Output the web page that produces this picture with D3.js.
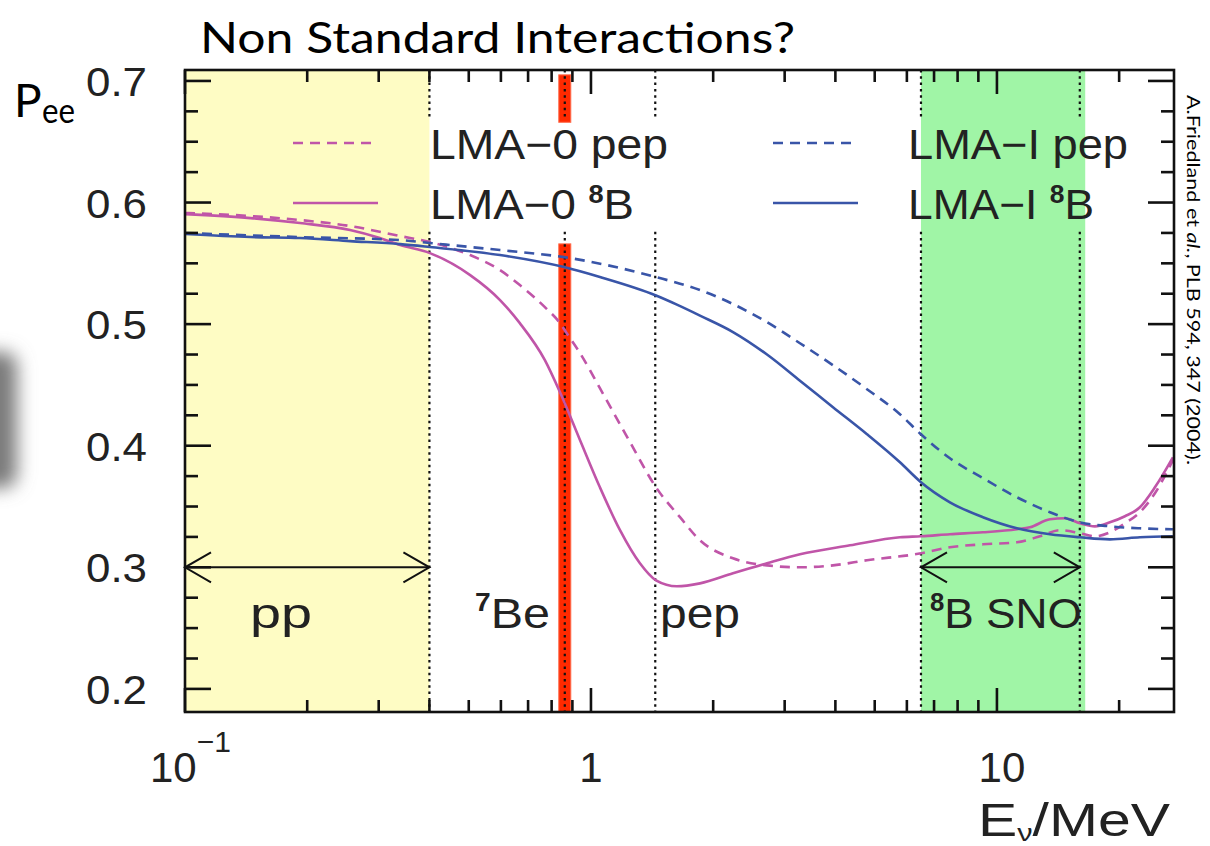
<!DOCTYPE html>
<html><head><meta charset="utf-8">
<script src="https://cdn.jsdelivr.net/npm/d3@7"></script>
<style>body{margin:0;background:#fff;} svg{display:block;}</style>
</head><body>
<svg id="chart" width="1210" height="846"></svg>
<script>
// ---------------- data ----------------
const xDomain = [0.1, 27.3];
const yDomain = [0.181, 0.709];

// [E (MeV), Pee]
const lma0_pep = [[0.100,0.5914],[0.145,0.5889],[0.192,0.5856],[0.255,0.5807],[0.339,0.5724],[0.401,0.5675],[0.504,0.5568],[0.597,0.5444],[0.668,0.5321],[0.770,0.5140],[0.839,0.5008],[0.868,0.4934],[0.940,0.4761],[1.052,0.4473],[1.248,0.4029],[1.446,0.3658],[1.657,0.3412],[1.856,0.3222],[2.238,0.3074],[2.714,0.3016],[3.272,0.3000],[3.946,0.3016],[4.785,0.3058],[6.499,0.3115],[7.659,0.3165],[9.237,0.3189],[11.20,0.3206],[12.76,0.3255],[14.30,0.3305],[16.01,0.3280],[17.43,0.3255],[18.98,0.3288],[20.67,0.3362],[22.50,0.3453],[24.50,0.3609],[27.13,0.3881]];
const lma0_8B = [[0.100,0.5905],[0.145,0.5872],[0.192,0.5831],[0.255,0.5774],[0.302,0.5708],[0.339,0.5650],[0.401,0.5584],[0.504,0.5403],[0.597,0.5198],[0.668,0.5008],[0.770,0.4704],[0.839,0.4440],[0.940,0.4045],[1.052,0.3658],[1.179,0.3305],[1.320,0.3033],[1.446,0.2893],[1.628,0.2844],[1.856,0.2868],[2.238,0.2951],[2.714,0.3033],[3.272,0.3107],[4.345,0.3181],[5.769,0.3247],[6.499,0.3255],[7.659,0.3272],[9.237,0.3288],[11.20,0.3313],[12.06,0.3329],[13.51,0.3395],[14.71,0.3403],[16.01,0.3362],[17.43,0.3337],[18.98,0.3370],[20.67,0.3420],[22.50,0.3494],[24.50,0.3658],[27.13,0.3905]];
const lmaI_pep = [[0.100,0.5749],[0.192,0.5716],[0.339,0.5691],[0.401,0.5667],[0.597,0.5609],[0.858,0.5551],[1.446,0.5387],[1.856,0.5280],[2.714,0.5016],[3.272,0.4843],[3.946,0.4662],[4.785,0.4465],[5.769,0.4259],[6.499,0.4094],[7.659,0.3897],[9.237,0.3733],[11.20,0.3576],[13.51,0.3453],[16.01,0.3370],[18.98,0.3337],[22.50,0.3321],[27.13,0.3313]];
const lmaI_8B = [[0.100,0.5741],[0.145,0.5716],[0.192,0.5708],[0.255,0.5683],[0.339,0.5658],[0.401,0.5634],[0.597,0.5568],[0.858,0.5469],[1.052,0.5387],[1.446,0.5235],[1.628,0.5160],[1.856,0.5070],[2.238,0.4935],[2.714,0.4750],[3.272,0.4535],[3.946,0.4317],[4.785,0.4095],[5.769,0.3864],[6.499,0.3700],[7.659,0.3535],[9.237,0.3412],[11.20,0.3321],[13.51,0.3272],[16.01,0.3247],[18.98,0.3230],[22.50,0.3247],[27.13,0.3255]];

const seriesNames = ["LMA\u22120 pep", "LMA\u22120 ", "LMA\u2212I pep", "LMA\u2212I "];
const yellowBand = [0.1, 0.4];
const greenBand = [6.5, 16.5];
const dottedE = [0.4, 0.862, 1.44, 6.5, 16.0];
const dottedGapP = [0.576, 0.670];
const redBarE = 0.862;
const redBarSegmentsP = [[0.666, 0.705], [0.181, 0.566]];
const arrowRanges = [[0.1, 0.4], [6.5, 16.0]];
const arrowP = 0.3;
const xMajorTicks = [0.1, 1, 10];
const xMinorTicks = [0.2,0.3,0.4,0.5,0.6,0.7,0.8,0.9,2,3,4,5,6,7,8,9,20];
const yMajorTicks = [0.2,0.3,0.4,0.5,0.6,0.7];
const yMinorTicks = d3.range(0, 21).map(i => +(0.2 + i*0.025).toFixed(3)).filter(v => yMajorTicks.indexOf(v) < 0);
const yTickLabels = ["0.2","0.3","0.4","0.5","0.6","0.7"];

// ---------------- drawing ----------------
const svg = d3.select("#chart");
const L = 185, R = 1174, T = 70, B = 712;
const x = d3.scaleLog().domain(xDomain).range([L, R]);
const y = d3.scaleLinear().domain(yDomain).range([B, T]);

const PINK = "#c055a8", BLUE = "#3955a8";
const FONT = "'Liberation Sans', Arial, sans-serif";
const GILL = "Lato, 'Open Sans', sans-serif";

const defs = svg.append("defs");
defs.append("filter").attr("id","blur").attr("x","-100%").attr("y","-100%").attr("width","300%").attr("height","300%")
  .append("feGaussianBlur").attr("stdDeviation", 9);
defs.append("clipPath").attr("id","plotclip").append("rect")
  .attr("x", L).attr("y", T).attr("width", R-L).attr("height", B-T);

// gray shadow artifact at left
svg.append("rect").attr("x",-45).attr("y",352).attr("width",62).attr("height",136).attr("rx",14)
  .attr("fill","#7a7a7a").attr("filter","url(#blur)");

// bands
svg.append("rect").attr("x", x(yellowBand[0])).attr("y", T).attr("width", x(yellowBand[1]) - x(yellowBand[0])).attr("height", B-T).attr("fill", "#fefcc4");
svg.append("rect").attr("x", x(greenBand[0])).attr("y", T).attr("width", x(greenBand[1]) - x(greenBand[0])).attr("height", B-T).attr("fill", "#a0f5a6");

// red bar
redBarSegmentsP.forEach(s => {
  svg.append("rect").attr("x", x(redBarE) - 6).attr("width", 12)
    .attr("y", y(s[1])).attr("height", y(s[0]) - y(s[1]))
    .attr("fill", "#ff2a00").attr("stroke", "#ff6a4a").attr("stroke-width", 1);
});

// dotted lines
dottedE.forEach(e => {
  [[yDomain[1], dottedGapP[1]], [dottedGapP[0], yDomain[0]]].forEach(seg => {
    svg.append("line").attr("x1", x(e)).attr("x2", x(e))
      .attr("y1", y(seg[0])).attr("y2", y(seg[1]))
      .attr("stroke", "#111").attr("stroke-width", 2.2).attr("stroke-dasharray", "2.5,3.8");
  });
});

// curves
const line = d3.line().x(d => x(d[0])).y(d => y(d[1])).curve(d3.curveMonotoneX);
const curves = svg.append("g").attr("clip-path", "url(#plotclip)");
const series = [
  {data: lma0_pep, color: PINK, dash: "10,7"},
  {data: lma0_8B, color: PINK, dash: null},
  {data: lmaI_pep, color: BLUE, dash: "10,7"},
  {data: lmaI_8B, color: BLUE, dash: null}
];
series.forEach(s => {
  curves.append("path").attr("d", line(s.data)).attr("fill","none")
    .attr("stroke", s.color).attr("stroke-width", 2.6)
    .attr("stroke-dasharray", s.dash);
});

// legend
const legendRows = [143, 203];
const legendCols = [{x1: 293, x2: 378, tx: 430}, {x1: 773, x2: 858, tx: 908}];
const legendWidths = [238, 204, 220, 186];
series.forEach((s, i) => {
  const col = legendCols[Math.floor(i/2)], row = legendRows[i%2];
  svg.append("line").attr("x1", col.x1).attr("x2", col.x2).attr("y1", row).attr("y2", row)
    .attr("stroke", s.color).attr("stroke-width", 2.6).attr("stroke-dasharray", s.dash);
  const t = svg.append("text").attr("x", col.tx).attr("y", row + 16)
    .attr("font-family", FONT).attr("font-size", 42).attr("fill", "#222");
  t.append("tspan").text(seriesNames[i]);
  if (i % 2 === 1) {
    t.append("tspan").attr("font-size", 25).attr("font-weight", "bold").attr("dy", -16).text("8");
    t.append("tspan").attr("dy", 16).text("B");
  }
  t.attr("textLength", legendWidths[i]).attr("lengthAdjust", "spacingAndGlyphs");
});

// arrows
arrowRanges.forEach(r => {
  const x1 = x(r[0]), x2 = x(r[1]), yy = y(arrowP);
  const g = svg.append("g").attr("stroke", "#111").attr("stroke-width", 2).attr("fill", "none");
  g.append("line").attr("x1", x1).attr("x2", x2).attr("y1", yy).attr("y2", yy);
  g.append("path").attr("d", `M${x1+26},${yy-15} L${x1},${yy} L${x1+26},${yy+15}`);
  g.append("path").attr("d", `M${x2-26},${yy-15} L${x2},${yy} L${x2-26},${yy+15}`);
});

// band labels
function bandLabel(xPos, sup, main, width) {
  const t = svg.append("text").attr("x", xPos).attr("y", 628)
    .attr("font-family", FONT).attr("font-size", 43).attr("fill", "#222");
  if (sup) {
    t.append("tspan").attr("font-size", 25).attr("font-weight", "bold").attr("dy", -17).text(sup);
    t.append("tspan").attr("dy", 17).text(main);
  } else t.append("tspan").text(main);
  t.attr("textLength", width).attr("lengthAdjust", "spacingAndGlyphs");
}
bandLabel(250, null, "pp", 62);
bandLabel(475, "7", "Be", 75);
bandLabel(660, null, "pep", 80);
bandLabel(930, "8", "B SNO", 152);

// frame
svg.append("rect").attr("x", L).attr("y", T).attr("width", R-L).attr("height", B-T)
  .attr("fill", "none").attr("stroke", "#111").attr("stroke-width", 2.6);

// ticks
const tk = svg.append("g").attr("stroke", "#111").attr("stroke-width", 2.6);
xMajorTicks.concat(xMinorTicks).forEach(v => {
  const len = xMajorTicks.includes(v) ? 24 : 12;
  tk.append("line").attr("x1", x(v)).attr("x2", x(v)).attr("y1", B).attr("y2", B - len);
  tk.append("line").attr("x1", x(v)).attr("x2", x(v)).attr("y1", T).attr("y2", T + len);
});
yMajorTicks.concat(yMinorTicks).forEach(v => {
  const len = yMajorTicks.includes(v) ? 26 : 13;
  tk.append("line").attr("x1", L).attr("x2", L + len).attr("y1", y(v)).attr("y2", y(v));
  tk.append("line").attr("x1", R).attr("x2", R - len).attr("y1", y(v)).attr("y2", y(v));
});

// y tick labels
yMajorTicks.forEach((v, i) => {
  svg.append("text").attr("x", 147).attr("y", y(v) + 15).attr("text-anchor", "end")
    .attr("font-family", FONT).attr("font-size", 40).attr("fill", "#222")
    .attr("textLength", 61).attr("lengthAdjust", "spacingAndGlyphs").text(yTickLabels[i]);
});

// x tick labels
const xl = svg.append("text").attr("x", 150).attr("y", 782).attr("font-family", FONT).attr("font-size", 42).attr("fill", "#222");
xl.append("tspan").text("10");
xl.append("tspan").attr("font-size", 30).attr("dy", -30).text("\u22121");
svg.append("text").attr("x", x(1)).attr("y", 782).attr("text-anchor", "middle").attr("font-family", FONT).attr("font-size", 42).attr("fill", "#222").text("1");
svg.append("text").attr("x", x(10) + 5).attr("y", 782).attr("text-anchor", "middle").attr("font-family", FONT).attr("font-size", 42).attr("fill", "#222").text("10");

// x axis title
const xt = svg.append("text").attr("x", 978).attr("y", 836).attr("font-family", FONT).attr("font-size", 46).attr("fill", "#222");
xt.append("tspan").text("E");
xt.append("tspan").attr("font-size", 24).attr("dy", 5).text("\u03BD");
xt.append("tspan").attr("dy", -5).text("/MeV");
xt.attr("textLength", 192).attr("lengthAdjust", "spacingAndGlyphs");

// y axis title
svg.append("text").attr("x", 14).attr("y", 117).attr("font-family", GILL).attr("font-size", 46).attr("fill", "#000").text("P");
svg.append("text").attr("x", 42).attr("y", 123).attr("font-family", GILL).attr("font-size", 34).attr("fill", "#000")
  .attr("textLength", 33).attr("lengthAdjust", "spacingAndGlyphs").text("ee");

// title
svg.append("text").attr("x", 200).attr("y", 53).attr("font-family", GILL).attr("font-size", 42).attr("fill", "#000")
  .attr("textLength", 595).attr("lengthAdjust", "spacingAndGlyphs").text("Non Standard Interactions?");

// side reference
const side = svg.append("text").attr("transform", "translate(1187,95) rotate(90)")
  .attr("font-family", GILL).attr("font-size", 18).attr("fill", "#000");
side.append("tspan").text("A.Friedland et ");
side.append("tspan").attr("font-style", "italic").text("al.");
side.append("tspan").text(", PLB 594, 347 (2004).");
side.attr("textLength", 370).attr("lengthAdjust", "spacingAndGlyphs");
</script>
</body></html>
